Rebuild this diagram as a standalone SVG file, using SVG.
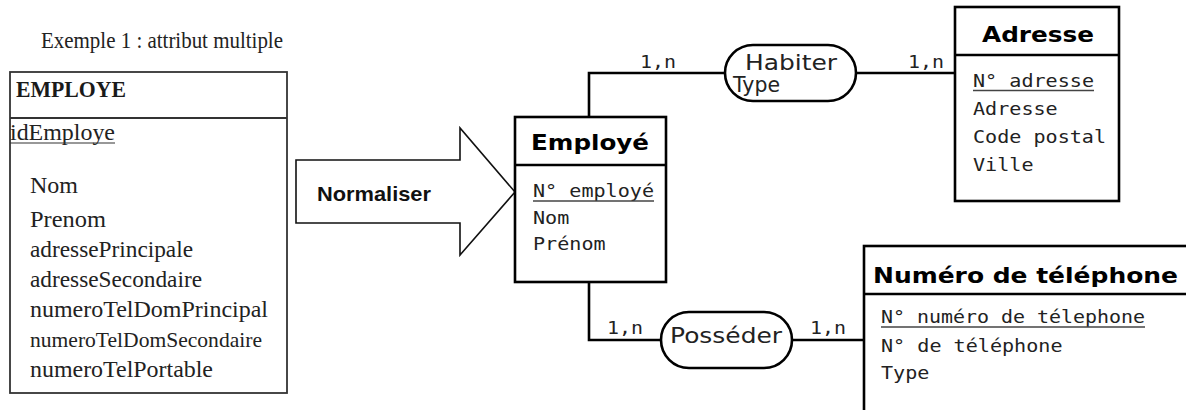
<svg xmlns="http://www.w3.org/2000/svg" width="1186" height="410" viewBox="0 0 1186 410">
  <style>
    .serif { font-family: "Liberation Serif", "Times New Roman", serif; fill: #222; }
    .serif-b { font-family: "Liberation Serif", "Times New Roman", serif; font-weight: bold; fill: #1a1a1a; }
    .box-l { fill: #fff; stroke: #333; stroke-width: 1.8; }
    .box { fill: #fff; stroke: #000; stroke-width: 2.6; }
    .sep { stroke: #000; stroke-width: 2.6; }
    .title { font-family: "DejaVu Sans", sans-serif; font-weight: bold; font-size: 22px; fill: #000; }
    .attr { font-family: "DejaVu Sans Mono", monospace; font-size: 18px; fill: #222; }
    .rel { font-family: "DejaVu Sans", sans-serif; font-size: 22px; fill: #222; }
    .ul { stroke: #444; stroke-width: 1.4; }
    .link { fill: none; stroke: #000; stroke-width: 2.6; }
    .card { font-family: "DejaVu Sans Mono", monospace; font-size: 18px; fill: #222; }
    .pill { fill: #fff; stroke: #000; stroke-width: 2.6; }
  </style>

  <!-- heading -->
  <text class="serif" x="41" y="48" font-size="23" textLength="242" lengthAdjust="spacingAndGlyphs">Exemple 1 : attribut multiple</text>

  <!-- flat entity before normalisation -->
  <g id="employe-flat">
    <rect class="box-l" x="10" y="72" width="277" height="321"/>
    <line x1="10" y1="118" x2="287" y2="118" stroke="#333" stroke-width="1.8"/>
    <text class="serif-b" x="16" y="97" font-size="23" textLength="110" lengthAdjust="spacingAndGlyphs">EMPLOYE</text>
    <text class="serif" x="10" y="140" font-size="24" textLength="105" lengthAdjust="spacingAndGlyphs">idEmploye</text>
    <line x1="10" y1="143" x2="115" y2="143" stroke="#333" stroke-width="1.2"/>
    <text class="serif" x="30" y="193" font-size="24">Nom</text>
    <text class="serif" x="30" y="227" font-size="24" textLength="76" lengthAdjust="spacingAndGlyphs">Prenom</text>
    <text class="serif" x="30" y="257" font-size="24" textLength="163" lengthAdjust="spacingAndGlyphs">adressePrincipale</text>
    <text class="serif" x="30" y="287" font-size="24" textLength="172" lengthAdjust="spacingAndGlyphs">adresseSecondaire</text>
    <text class="serif" x="30" y="317" font-size="24" textLength="238" lengthAdjust="spacingAndGlyphs">numeroTelDomPrincipal</text>
    <text class="serif" x="30" y="347" font-size="22" textLength="232" lengthAdjust="spacingAndGlyphs">numeroTelDomSecondaire</text>
    <text class="serif" x="30" y="377" font-size="24" textLength="183" lengthAdjust="spacingAndGlyphs">numeroTelPortable</text>
  </g>

  <!-- block arrow -->
  <g id="normaliser">
    <polygon points="296,160 460,160 460,128 515,192 460,255 460,223 296,223" fill="#fff" stroke="#111" stroke-width="1.6" stroke-linejoin="miter"/>
    <text x="317" y="201" font-family="Liberation Sans, Arial, sans-serif" font-weight="bold" font-size="21" fill="#111" textLength="114" lengthAdjust="spacingAndGlyphs">Normaliser</text>
  </g>

  <!-- connectors -->
  <g id="connectors">
    <polyline class="link" points="589,117 589,73 725,73"/>
    <line class="link" x1="856" y1="73" x2="955" y2="73"/>
    <polyline class="link" points="589,282 589,340 661,340"/>
    <line class="link" x1="792" y1="340" x2="864" y2="340"/>
    <text class="card" x="640" y="68" textLength="36" lengthAdjust="spacingAndGlyphs">1,n</text>
    <text class="card" x="908" y="68" textLength="36" lengthAdjust="spacingAndGlyphs">1,n</text>
    <text class="card" x="607" y="334" textLength="36" lengthAdjust="spacingAndGlyphs">1,n</text>
    <text class="card" x="810" y="334" textLength="36" lengthAdjust="spacingAndGlyphs">1,n</text>
  </g>

  <!-- entity: Employé -->
  <g id="employe">
    <rect class="box" x="515" y="117" width="151" height="165"/>
    <line class="sep" x1="515" y1="165" x2="666" y2="165"/>
    <text class="title" x="531" y="150" textLength="118" lengthAdjust="spacingAndGlyphs">Employé</text>
    <text class="attr" x="533" y="197" textLength="121" lengthAdjust="spacingAndGlyphs">N° employé</text>
    <line class="ul" x1="533" y1="201" x2="654" y2="201"/>
    <text class="attr" x="533" y="224" textLength="36.3" lengthAdjust="spacingAndGlyphs">Nom</text>
    <text class="attr" x="533" y="250" textLength="72.6" lengthAdjust="spacingAndGlyphs">Prénom</text>
  </g>

  <!-- association: Habiter -->
  <g id="habiter">
    <rect class="pill" x="725" y="45" width="131" height="56" rx="28" ry="28"/>
    <text class="rel" x="745" y="70" textLength="92" lengthAdjust="spacingAndGlyphs">Habiter</text>
    <text class="rel" x="733" y="92" font-size="18" textLength="47" lengthAdjust="spacingAndGlyphs">Type</text>
  </g>

  <!-- entity: Adresse -->
  <g id="adresse">
    <rect class="box" x="955" y="7" width="164" height="194"/>
    <line class="sep" x1="955" y1="55" x2="1119" y2="55"/>
    <text class="title" x="982" y="42" textLength="112" lengthAdjust="spacingAndGlyphs">Adresse</text>
    <text class="attr" x="973" y="87" textLength="121" lengthAdjust="spacingAndGlyphs">N° adresse</text>
    <line class="ul" x1="973" y1="90.5" x2="1094" y2="90.5"/>
    <text class="attr" x="973" y="115" textLength="84.7" lengthAdjust="spacingAndGlyphs">Adresse</text>
    <text class="attr" x="973" y="143" textLength="133" lengthAdjust="spacingAndGlyphs">Code postal</text>
    <text class="attr" x="973" y="171" textLength="60.5" lengthAdjust="spacingAndGlyphs">Ville</text>
  </g>

  <!-- association: Posséder -->
  <g id="posseder">
    <rect class="pill" x="661" y="312" width="131" height="56" rx="28" ry="28"/>
    <text class="rel" x="670" y="343" textLength="112" lengthAdjust="spacingAndGlyphs">Posséder</text>
  </g>

  <!-- entity: Numéro de téléphone (runs past the right and bottom edges) -->
  <g id="numero-telephone">
    <rect class="box" x="864" y="246" width="340" height="180"/>
    <line class="sep" x1="864" y1="294" x2="1204" y2="294"/>
    <text class="title" x="873" y="283" textLength="305" lengthAdjust="spacingAndGlyphs">Numéro de téléphone</text>
    <text class="attr" x="881" y="323" textLength="264" lengthAdjust="spacingAndGlyphs">N° numéro de télephone</text>
    <line class="ul" x1="881" y1="327" x2="1145" y2="327"/>
    <text class="attr" x="881" y="352" textLength="181.5" lengthAdjust="spacingAndGlyphs">N° de téléphone</text>
    <text class="attr" x="881" y="379" textLength="48.4" lengthAdjust="spacingAndGlyphs">Type</text>
  </g>
</svg>
